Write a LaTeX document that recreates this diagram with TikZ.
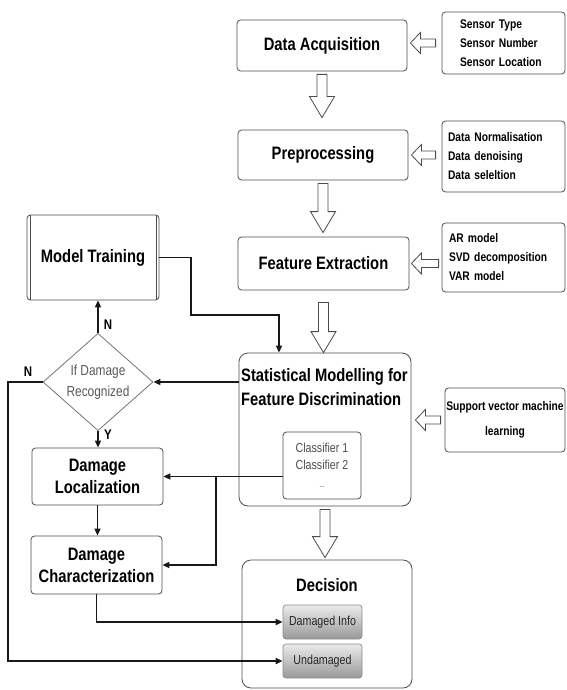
\documentclass[tikz,border=0pt]{standalone}
\usepackage{fontspec}
\setmainfont[FakeStretch=0.82]{Liberation Sans}
\usetikzlibrary{calc,shapes.geometric,arrows.meta}
\newcommand\hdown[2]{\draw[hollow] let \p1=#1, \p2=#2 in (\x1-5pt,\y1) -- (\x1-5pt,\y2+21pt) -- (\x1-12.5pt,\y2+21pt) -- (\x1,\y2) -- (\x1+12.5pt,\y2+21pt) -- (\x1+5pt,\y2+21pt) -- (\x1+5pt,\y1) -- cycle;}
\newcommand\hleft[2]{\draw[hollow] let \p1=#1, \p2=#2 in (\x1,\y1-4pt) -- (\x2+10pt,\y1-4pt) -- (\x2+10pt,\y1-10.5pt) -- (\x2,\y1) -- (\x2+10pt,\y1+10.5pt) -- (\x2+10pt,\y1+4pt) -- (\x1,\y1+4pt) -- cycle;}
\begin{document}
\begin{tikzpicture}[x=1pt,y=-1pt,
  frame/.style={draw=black!70, line width=0.8pt, rounded corners=3.5pt, inner sep=0pt, align=center},
  big/.style={font=\bfseries\fontsize{18}{22}\selectfont},
  side/.style={frame, font=\bfseries\fontsize{12.5}{19}\selectfont, align=left},
  conn/.style={draw=black!90, line width=1.7pt, -{Triangle[length=7pt,width=6pt]}},
  hollow/.style={draw=black!70, line width=0.8pt, fill=white},
  lbl/.style={font=\bfseries\fontsize{14}{16}\selectfont, inner sep=0pt},
  shadebox/.style={draw=black!45, line width=0.7pt, rounded corners=3pt, top color=black!8, bottom color=black!40, minimum width=79, minimum height=34, inner sep=0pt, font=\fontsize{13}{15}\selectfont, text=black!85}
]
\useasboundingbox (0,0) rectangle (566,690);

% top chain
\node[frame, big, minimum width=170, minimum height=51] (da) at (322,45.5) {Data Acquisition};
\node[side, minimum width=123, minimum height=62, text width=87] (sens) at (503.5,43) {Sensor Type\\Sensor Number\\Sensor Location};
\node[frame, big, minimum width=170, minimum height=50] (pre) at (323,155) {Preprocessing};
\node[side, minimum width=123, minimum height=71, text width=111] (norm) at (503.5,156.5) {Data Normalisation\\Data denoising\\Data seleltion};
\node[frame, big, minimum width=171, minimum height=53] (fe) at (323.5,263.5) {Feature Extraction};
\node[side, minimum width=123, minimum height=69, text width=109] (ar) at (503.5,257.5) {AR model\\SVD decomposition\\VAR model};

% model training
\node[frame, big, minimum width=132, minimum height=85] (mt) at (93,257.5) {Model Training};
\draw[black!70, line width=0.8pt] ($(mt.north west)+(3.5,0)$) -- ($(mt.south west)+(3.5,0)$);
\draw[black!70, line width=0.8pt] ($(mt.north east)+(-3.5,0)$) -- ($(mt.south east)+(-3.5,0)$);

% statistical modelling
\node[frame, minimum width=172, minimum height=153, rounded corners=9pt] (sm) at (325,429.5) {};
\node[font=\bfseries\fontsize{18}{24}\selectfont, anchor=north west, align=left, inner sep=0pt] (smt) at (241,368) {Statistical Modelling for\\Feature Discrimination};
\node[frame, minimum width=78, minimum height=67, font=\fontsize{13}{17}\selectfont, text=black!70] (cls) at (322,465.5) {Classifier 1\\Classifier 2\\[1pt]{\fontsize{8}{9}\selectfont ...}};
\node[side, align=center, minimum width=120, minimum height=64] (svm) at (505,420) {Support vector machine\\[6pt]learning};

% decision diamond and damage boxes
\node[diamond, draw=black!55, line width=0.8pt, minimum width=110, minimum height=86, inner sep=0pt, align=center, font=\fontsize{14.5}{21}\selectfont, text=black!65] (dia) at (98,382) {If Damage\\Recognized};
\node[frame, big, minimum width=131, minimum height=57] (dl) at (97.5,476.5) {Damage\\Localization};
\node[frame, big, minimum width=131, minimum height=58] (dc) at (96.5,565) {Damage\\Characterization};

% decision
\node[frame, minimum width=170, minimum height=128, rounded corners=9pt] (dec) at (327,624) {};
\node[big] (dect) at (327,585) {Decision};
\node[shadebox] (di) at (322.5,622) {Damaged Info};
\node[shadebox] (ud) at (322.5,661) {Undamaged};

% hollow arrows
\hdown{($(da.south)+(0,3)$)}{($(pre.north)+(0,-12)$)}
\hdown{($(pre.south)+(0,3)$)}{($(fe.north)+(0,-4)$)}
\hdown{($(fe.south)+(0,12)$)}{(fe.south |- sm.north)}
\hdown{($(sm.south)+(0,3)$)}{($(dec.north)+(0,-2)$)}
\hleft{($(sens.west)+(-6,0)$)}{($(da.east)+(3,0)$)}
\hleft{($(norm.west |- pre.east)+(-6,0)$)}{($(pre.east)+(3,0)$)}
\hleft{($(ar.west |- fe.east)+(-3,0)$)}{($(fe.east)+(2,0)$)}
\hleft{($(svm.west)+(-4,0)$)}{($(sm.east |- svm.west)+(4,0)$)}

% connectors
\coordinate (k0) at (191,315);
\coordinate (k1) at (279,315);
\draw[conn] (mt.east) -- (mt.east -| k0) -- (k0) -- (k1) -- (k1 |- sm.north);
\draw[conn] (sm.west |- dia.east) -- (dia.east);
\draw[conn] (dia.north) -- (dia.north |- mt.south);
\draw[conn] (dia.south) -- (dia.south |- dl.north);
\coordinate (lft) at (8,382);
\draw[conn] (dia.west) -- (lft) |- (ud.west);
\draw[conn] (cls.west |- dl.east) -- (dl.east);
\coordinate (br) at (216,0);
\draw[conn] (br |- dl.east) |- (dc.east);
\draw[conn] (dl.south) -- (dl.south |- dc.north);
\draw[conn] (dc.south) |- (di.west);

% labels
\node[lbl] (n1) at (108,325) {N};
\node[lbl] (n2) at (28,372) {N};
\node[lbl] (y1) at (108,435) {Y};
\end{tikzpicture}
\end{document}
